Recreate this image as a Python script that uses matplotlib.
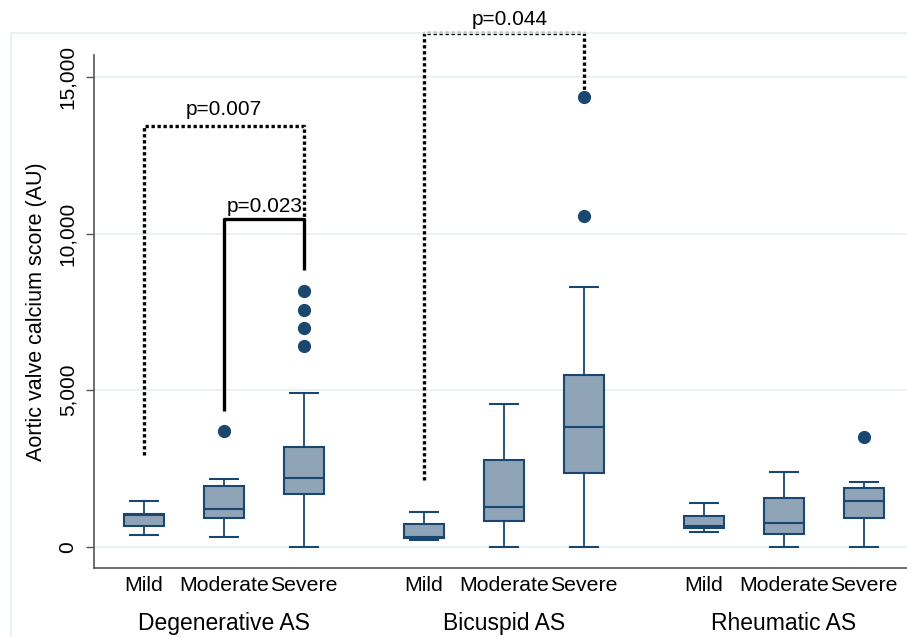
import matplotlib
matplotlib.use("Agg")
import matplotlib.pyplot as plt
import matplotlib.transforms as mtransforms
from matplotlib.lines import Line2D

plt.rcParams["font.family"] = ["Liberation Sans", "DejaVu Sans"]

# ── data ────────────────────────────────────────────────────────────────────
groups     = ["Degenerative AS", "Bicuspid AS", "Rheumatic AS"]
severities = ["Mild", "Moderate", "Severe"]

whislo = [370, 300, 0, 220, 0, 0, 465, 0, 0]
q1     = [660, 925, 1680, 290, 830, 2370, 600, 405, 905]
med    = [1010, 1190, 2190, 305, 1265, 3830, 660, 745, 1445]
q3     = [1060, 1955, 3180, 715, 2775, 5480, 980, 1545, 1870]
whishi = [1465, 2160, 4915, 1105, 4565, 8310, 1400, 2395, 2065]
fliers = [[], [3700], [6415, 6990, 7575, 8170], [], [], [10565, 14375],
          [], [], [3520]]

# brackets: (x_left, x_right, y_left_end, y_top, y_right_end, label, label_x, label_y, dotted)
brackets = [
    (1, 3, 2940, 13440, 10460, "p=0.007", 2.0, 13800, True),
    (2, 3, 4340, 10460, 8840, "p=0.023", 2.51, 10710, False),
    (4.5, 6.5, 2140, 16420, 14590, "p=0.044", 5.575, 16670, True),
]

# ── colours ─────────────────────────────────────────────────────────────────
NAVY = "#1a476f"
FILL = "#90a4b8"
GRID = "#e6eff1"
AXIS = "#555555"

# within a group boxes are 1 apart, groups separated by an extra half slot
positions = [1, 2, 3, 4.5, 5.5, 6.5, 8, 9, 10]
group_centres = [2, 5.5, 9]

stats = []
for i in range(len(positions)):
    stats.append(dict(whislo=whislo[i], q1=q1[i], med=med[i], q3=q3[i],
                      whishi=whishi[i], fliers=fliers[i]))

fig = plt.figure(figsize=(9.07, 6.37), dpi=100)
ax = fig.add_axes([94 / 907, 69 / 637, 1 - 94 / 907, (568 - 55) / 637])

ax.bxp(stats, positions=positions, widths=0.49, capwidths=0.34,
       patch_artist=True,
       boxprops=dict(facecolor=FILL, edgecolor=NAVY, lw=1.5),
       medianprops=dict(color=NAVY, lw=1.5),
       whiskerprops=dict(color=NAVY, lw=1.3),
       capprops=dict(color=NAVY, lw=1.5),
       flierprops=dict(marker="o", markersize=8.5, markerfacecolor=NAVY,
                       markeredgecolor=NAVY))

# ── significance brackets ───────────────────────────────────────────────────
for xl, xr, yl, yt, yr, lab, lx, ly, dotted in brackets:
    ls = (0, (1, 0.8)) if dotted else "-"
    ax.plot([xl, xl, xr, xr], [yl, yt, yt, yr], color="black", lw=2.4,
            ls=ls, clip_on=False, zorder=4, solid_capstyle="butt",
            dash_capstyle="butt")
    ax.text(lx, ly, lab, ha="center", va="baseline", fontsize=15,
            clip_on=False)

# ── axes styling ────────────────────────────────────────────────────────────
ax.set_xlim(0.375, 10.5375)
ax.set_ylim(-681, 15714)
ax.set_yticks([0, 5000, 10000, 15000])
ax.set_yticklabels(["0", "5,000", "10,000", "15,000"], rotation=90,
                   va="center")
ax.set_xticks(positions)
ax.set_xticklabels(severities * 3)
ax.tick_params(axis="y", length=6, width=1, color=AXIS, pad=6, labelsize=15)
ax.tick_params(axis="x", length=0, pad=6, labelsize=15.3)
ax.grid(axis="y", color=GRID, lw=1.2)
ax.set_axisbelow(True)
for s in ["top", "right"]:
    ax.spines[s].set_visible(False)
for s in ["left", "bottom"]:
    ax.spines[s].set_color(AXIS)
    ax.spines[s].set_linewidth(1.2)

ax.set_ylabel("Aortic valve calcium score (AU)", fontsize=15.5, labelpad=8)

# group labels under the severity labels
trans = mtransforms.blended_transform_factory(ax.transData, fig.transFigure)
for g, xc in zip(groups, group_centres):
    ax.text(xc, 1 - 630 / 637, g, transform=trans, ha="center",
            va="baseline", fontsize=16.5)

# light outer frame of the graph region
fig.add_artist(Line2D([11 / 907, 1], [1 - 33 / 637] * 2, color=GRID, lw=1.2,
                      transform=fig.transFigure))
fig.add_artist(Line2D([11 / 907] * 2, [0, 1 - 33 / 637], color=GRID, lw=1.2,
                      transform=fig.transFigure))

fig.savefig("out.png", dpi=100)
